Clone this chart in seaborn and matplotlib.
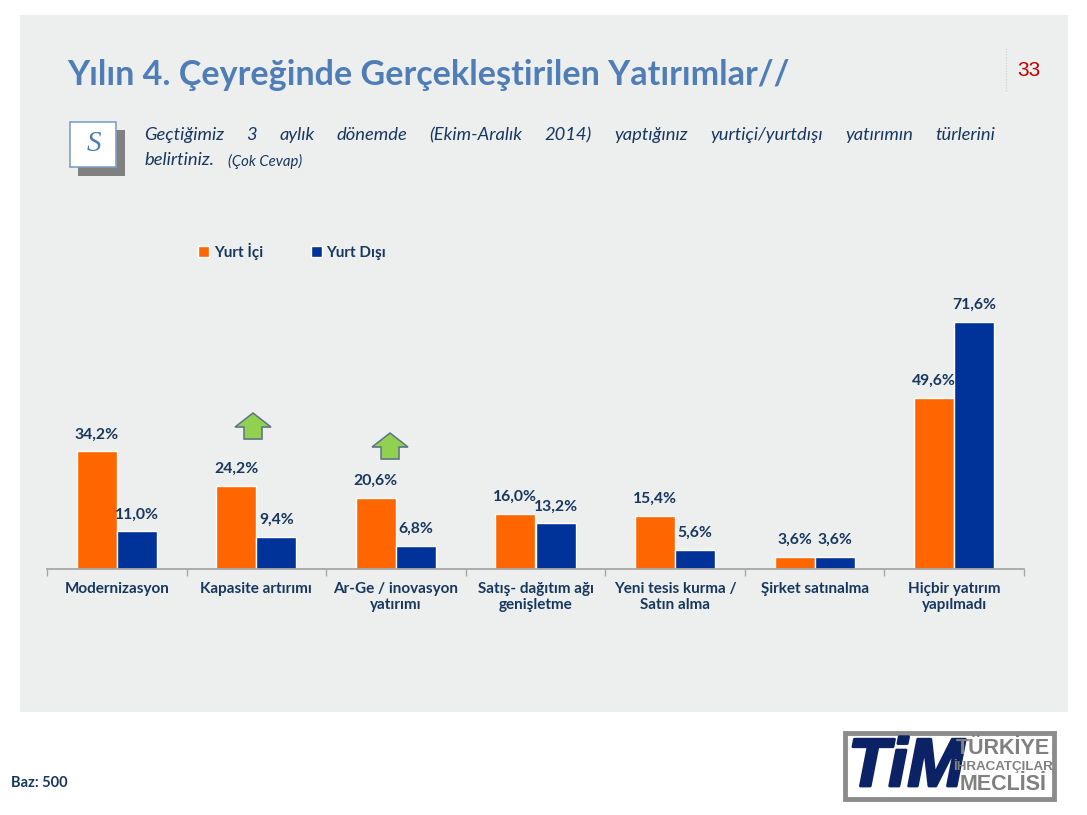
import matplotlib
matplotlib.use("Agg")
import matplotlib.pyplot as plt
from matplotlib.patches import Rectangle, Polygon
from matplotlib.patheffects import withStroke
import pandas as pd
import seaborn as sns

categories = ["Modernizasyon", "Kapasite artırımı", "Ar-Ge / inovasyon\nyatırımı",
              "Satış- dağıtım ağı\ngenişletme", "Yeni tesis kurma /\nSatın alma",
              "Şirket satınalma", "Hiçbir yatırım\nyapılmadı"]
yurt_ici = [34.2, 24.2, 20.6, 16.0, 15.4, 3.6, 49.6]
yurt_disi = [11.0, 9.4, 6.8, 13.2, 5.6, 3.6, 71.6]
series_names = ["Yurt İçi", "Yurt Dışı"]
title_text = "Yılın 4. Çeyreğinde Gerçekleştirilen Yatırımlar//"
question_line1 = "Geçtiğimiz 3 aylık dönemde (Ekim-Aralık 2014) yaptığınız yurtiçi/yurtdışı yatırımın türlerini"
arrow_categories = [1, 2]

W, H = 1087, 815
ORANGE, NAVY, INK = "#FF6600", "#003399", "#17375E"
sns.set_theme(style="white")
plt.rcParams["font.family"] = ["Lato", "DejaVu Sans"]

fig = plt.figure(figsize=(W / 100, H / 100), dpi=100, facecolor="white")
bg = fig.add_axes([0, 0, 1, 1], zorder=0)
bg.set_xlim(0, W); bg.set_ylim(H, 0); bg.axis("off")

# panel + header
bg.add_patch(Rectangle((20, 15), 1048, 697, fc="#EDEFEF", ec="none"))
bg.text(67, 75, title_text, fontsize=24.6, fontweight="bold", color="#4F7DB5", va="center", ha="left")
bg.plot([1006, 1006], [48, 91], color="#D4D6D6", lw=1, ls=(0, (1, 1)))
bg.text(1017, 70, "33", fontsize=15, color="#C00000", family="Liberation Sans", va="center", ha="left")

# question box
bg.add_patch(Rectangle((78, 130), 47, 46, fc="#808080", ec="none"))
bg.add_patch(Rectangle((69.5, 121.5), 46, 45.5, fc="white", ec="#7F9FC8", lw=1.2))
bg.text(93.5, 144, "S", fontsize=21, style="italic", family="Liberation Serif", color="#4F7DB5", ha="center", va="center")

# justified question line
words = question_line1.split()
fig.canvas.draw()
rend = fig.canvas.get_renderer()
artists = [bg.text(0, 135, w, fontsize=13.2, style="italic", color=INK, va="center", ha="left") for w in words]
widths = [a.get_window_extent(rend).width for a in artists]
gap = (995 - 144 - sum(widths)) / (len(words) - 1)
x = 144
for a, w in zip(artists, widths):
    a.set_x(x)
    x += w + gap
t2 = bg.text(144, 160, "belirtiniz.", fontsize=13.2, style="italic", color=INK, va="center", ha="left")
bg.text(228, 161, "(Çok Cevap)", fontsize=10.7, style="italic", color=INK, va="center", ha="left")

bg.text(11, 783, "Baz: 500", fontsize=10.5, fontweight="bold", color=INK, va="center", ha="left")

# chart
X0, X1, Y0, YT = 47, 1024, 569, 285
PX_PER_UNIT = (569 - 322) / 71.6
ax = fig.add_axes([X0 / W, 1 - Y0 / H, (X1 - X0) / W, (Y0 - YT) / H], zorder=2)
ax.patch.set_alpha(0)
df = pd.DataFrame({"cat": categories * 2,
                   "val": yurt_ici + yurt_disi,
                   "seri": [series_names[0]] * 7 + [series_names[1]] * 7})
sns.barplot(data=df, x="cat", y="val", hue="seri", order=categories, hue_order=series_names,
            palette=[ORANGE, NAVY], width=0.575, gap=0, saturation=1, ax=ax, errorbar=None, legend=True)
ax.set_xlim(-0.5, 6.5)
ax.set_ylim(0, (Y0 - YT) / PX_PER_UNIT)
ax.set_xlabel(""); ax.set_ylabel(""); ax.set_yticks([])
for s in ["top", "left", "right"]:
    ax.spines[s].set_visible(False)
ax.spines["bottom"].set_color("#A6A6A6")
ax.spines["bottom"].set_linewidth(1.3)
ax.set_xticks(range(7))
ax.set_xticklabels(categories, fontsize=11, fontweight="bold", color=INK, linespacing=1.25)
ax.tick_params(axis="x", which="major", length=0, pad=9, bottom=True)
ax.set_xticks([i - 0.5 for i in range(8)], minor=True)
ax.tick_params(axis="x", which="minor", length=5, width=1, color="#A6A6A6", bottom=True)
for c in ax.containers:
    labels = [f"{v:.1f}%".replace(".", ",") for v in c.datavalues]
    ax.bar_label(c, labels=labels, padding=7, fontsize=11.3, fontweight="bold", color=INK)
leg = ax.legend(loc="center left", bbox_to_anchor=((198 - X0) / (X1 - X0), (Y0 - 251) / (Y0 - YT)),
                ncol=2, frameon=False, prop={"size": 11, "weight": "bold"}, handlelength=0.75,
                handleheight=0.75, handletextpad=0.3, columnspacing=3.1, borderpad=0, borderaxespad=0)
for t in leg.get_texts():
    t.set_color(INK)

# green up arrows above two categories
fg = fig.add_axes([0, 0, 1, 1], zorder=3)
fg.set_xlim(0, W); fg.set_ylim(H, 0); fg.axis("off")
for (cx, tip) in [(253, 413), (390, 433)]:
    pts = [(cx, tip), (cx + 18, tip + 14), (cx + 9, tip + 14), (cx + 9, tip + 26),
           (cx - 9, tip + 26), (cx - 9, tip + 14), (cx - 18, tip + 14)]
    fg.add_patch(Polygon([(a + 0.5, b + 1) for a, b in pts], fc="#9A9A9A", ec="none", alpha=0.6))
    fg.add_patch(Polygon(pts, fc="#92D050", ec="#5E7388", lw=1.1))

# logo
fg.add_patch(Rectangle((845, 733), 209, 66, fc="white", ec="#8C8C8C", lw=3.5))
fg.text(906, 768, "TiM", fontsize=49, fontweight="black", style="italic", color="#0B2265",
        family="Liberation Sans", ha="center", va="center", stretch="condensed",
        path_effects=[withStroke(linewidth=2.0, foreground="#0B2265")])
for txt, y, fs in [("TÜRKİYE", 749, 15.5), ("İHRACATÇILAR", 766, 9.6), ("MECLİSİ", 784, 15.5)]:
    fg.text(1003, y, txt, fontsize=fs, fontweight="bold", color="#808080", ha="center", va="center",
            family=["Liberation Sans Narrow", "Liberation Sans"])

fig.savefig("out.png", dpi=100, facecolor="white")
